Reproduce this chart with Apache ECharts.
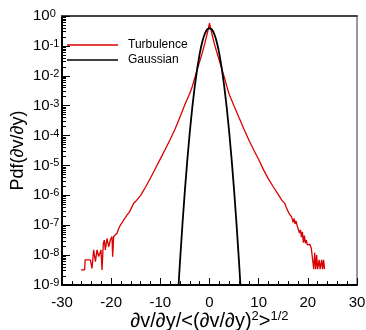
<!DOCTYPE html>
<html><head><meta charset="utf-8">
<script src="https://cdn.jsdelivr.net/npm/echarts@6/dist/echarts.min.js"></script>
<style>html,body{margin:0;padding:0;background:#fff}#c{width:366px;height:330px}</style>
</head><body><div id="c"></div>
<script>
// ---- data ----
const turbX = [-26.14,-25.39,-25.3,-24.24,-23.9,-23.56,-23.2,-22.88,-22.54,-22.07,-21.86,-21.6,-21.39,-21.19,-20.85,-20.5,-20.17,-19.83,-19.7,-19.49,-19.2,-18.81,-18.5,-18.14,-17.8,-17.46,-17.1,-16.78,-16.4,-16.1,-15.75,-15.42,-15,-14,-13,-12,-11,-10,-9,-8,-7,-6,-5,-4,-3.5,-3,-2.5,-2,-1.5,-1,-0.75,-0.5,-0.25,0,0.25,0.5,0.75,1,1.5,2,2.5,3,3.5,4,5,6,7,8,9,10,11,12,13,14,14.7,15,15.3,15.6,15.9,16.1,16.4,16.7,17,17.2,17.4,17.6,17.8,18.05,18.3,18.5,18.7,18.9,19.1,19.3,19.5,19.7,19.9,20.1,20.4,20.7,21,21.2,21.4,21.6,21.8,22,22.3,22.5,22.8,23,23.2,23.4,23.5];
const turbP = [3.2e-9,3.2e-9,6.9e-9,6.9e-9,3.6e-9,1.5e-8,6.0e-9,1.5e-8,8.9e-9,1.5e-8,3.2e-9,2.4e-8,3.2e-8,1.5e-8,3.6e-8,1.9e-8,3.2e-8,4.2e-8,8.9e-9,4.2e-8,4.6e-8,5.4e-8,7.5e-8,1.0e-7,1.2e-7,1.5e-7,1.8e-7,2.2e-7,2.6e-7,3.2e-7,4.2e-7,5.4e-7,6.3e-7,1.0e-6,1.9e-6,3.8e-6,7.9e-6,1.66e-5,3.5e-5,7.4e-5,1.66e-4,4.2e-4,1.1e-3,2.6e-3,4.4e-3,8.5e-3,1.6e-2,3.0e-2,5.6e-2,0.112,0.165,0.245,0.37,0.58,0.38,0.25,0.17,0.117,0.060,0.032,0.017,0.0091,0.0046,0.0024,9.8e-4,4.0e-4,1.66e-4,7.1e-5,3.3e-5,1.58e-5,7.1e-6,3.5e-6,1.9e-6,1.05e-6,6.9e-7,6.0e-7,5.4e-7,4.0e-7,3.5e-7,2.6e-7,2.9e-7,1.9e-7,1.25e-7,1.7e-7,1.1e-7,1.4e-7,1.0e-7,1.0e-7,5.5e-8,7.0e-8,4.0e-8,6.0e-8,2.6e-8,4.5e-8,2.5e-8,3.2e-8,2.2e-8,1.9e-8,2.3e-8,1.7e-8,1.5e-8,3.4e-9,1.2e-8,3.4e-9,1.0e-8,3.4e-9,7.0e-9,3.4e-9,6.9e-9,3.4e-9,6.9e-9,3.4e-9,3.4e-9];
const gaussX = [-6.5,-6,-5.5,-5,-4.5,-4,-3.5,-3,-2.5,-2,-1.75,-1.5,-1.25,-1,-0.75,-0.5,-0.25,0,0.25,0.5,0.75,1,1.25,1.5,1.75,2,2.5,3,3.5,4,4.5,5,5.5,6,6.5];
const gaussP = [2.67e-10,6.08e-9,1.08e-7,1.49e-6,1.60e-5,1.34e-4,8.73e-4,4.43e-3,1.75e-2,5.40e-2,8.63e-2,0.1295,0.1826,0.2420,0.3011,0.3521,0.3867,0.3989,0.3867,0.3521,0.3011,0.2420,0.1826,0.1295,8.63e-2,5.40e-2,1.75e-2,4.43e-3,8.73e-4,1.34e-4,1.60e-5,1.49e-6,1.08e-7,6.08e-9,2.67e-10];
const seriesNames = ['Turbulence', 'Gaussian'];
const seriesColors = ['#d80000', '#000000'];
const xTicks = [-30,-20,-10,0,10,20,30];
const yTicks = [1e-9,1e-8,1e-7,1e-6,1e-5,1e-4,1e-3,1e-2,1e-1,1];
const yMinorMult = [2,3,4,5,6,7,8,9];

const yMinorTicks = [];
for (let i = 0; i < yTicks.length - 1; i++) {
  for (const m of yMinorMult) yMinorTicks.push(m * yTicks[i]);
}

const FONT = '"Liberation Sans", Arial, Helvetica, sans-serif';
const chart = echarts.init(document.getElementById('c'), null, {renderer: 'canvas'});
function expLabel(v) {
  const e = Math.round(Math.log10(v));
  return '{b|10}{e|' + e + '}';
}
const option = {
  animation: false,
  backgroundColor: '#fff',
  grid: {left: 62, right: 9, top: 16, bottom: 45, containLabel: false, outerBoundsMode: 'none',
         show: true, borderColor: '#333', borderWidth: 1, backgroundColor: 'transparent'},
  legend: {
    orient: 'vertical', left: 67, top: 38, padding: 0, itemGap: 1,
    itemWidth: 51, itemHeight: 1.5,
    data: seriesNames.map((n, i) => ({name: n, icon: 'rect', itemStyle: {color: seriesColors[i]}})),
    textStyle: {fontSize: 12, color: '#000', fontFamily: FONT, padding: [0, 0, 0, 5], lineHeight: 14}
  },
  xAxis: [{
    type: 'value', min: xTicks[0], max: xTicks[xTicks.length - 1], interval: 10, position: 'bottom',
    axisLine: {onZero: false, lineStyle: {color: '#000', width: 2}},
    axisTick: {inside: true, length: 7, lineStyle: {color: '#000', width: 1}},
    minorTick: {show: true, splitNumber: 5, length: 4, lineStyle: {color: '#000', width: 1}},
    splitLine: {show: false},
    axisLabel: {fontSize: 15, color: '#000', fontFamily: FONT, margin: 10},
    name: '{a|∂v/∂y/<(∂v/∂y)}{s|2}{a|>}{s|1/2}',
    nameLocation: 'middle', nameGap: 25, nameMoveOverlap: false,
    nameTextStyle: {
      color: '#000', fontFamily: FONT, fontSize: 20,
      rich: {
        a: {fontSize: 20, lineHeight: 21, fontFamily: FONT, color: '#000', verticalAlign: 'bottom'},
        s: {fontSize: 13, lineHeight: 13, fontFamily: FONT, color: '#000', verticalAlign: 'top', padding: [0, 0, 10, 0]}
      }
    }
  }, {
    type: 'value', min: xTicks[0], max: xTicks[xTicks.length - 1], position: 'top',
    axisLine: {onZero: false, lineStyle: {color: '#444', width: 2}},
    axisTick: {show: false}, axisLabel: {show: false}, splitLine: {show: false}
  }],
  yAxis: [{
    type: 'log', logBase: 10, min: yTicks[0], max: yTicks[yTicks.length - 1], position: 'left',
    axisLine: {show: true, onZero: false, lineStyle: {color: '#000', width: 2}},
    axisTick: {show: true, inside: true, length: 8, customValues: yTicks, lineStyle: {color: '#000', width: 1}},
    minorTick: {show: false},
    splitLine: {show: false},
    axisLabel: {
      customValues: yTicks, formatter: expLabel, align: 'left', margin: 29,
      color: '#000', fontFamily: FONT, fontSize: 15,
      rich: {
        b: {fontSize: 15, lineHeight: 15, fontFamily: FONT, color: '#000', verticalAlign: 'bottom'},
        e: {fontSize: 11, lineHeight: 11, fontFamily: FONT, color: '#000', verticalAlign: 'top', padding: [0, 0, 9, 0]}
      }
    },
    name: 'Pdf(∂v/∂y)', nameLocation: 'middle', nameGap: 35, nameMoveOverlap: false,
    nameTextStyle: {fontSize: 18, color: '#000', fontFamily: FONT}
  }, {
    type: 'log', logBase: 10, min: yTicks[0], max: yTicks[yTicks.length - 1], position: 'left',
    axisLine: {show: false, onZero: false},
    axisTick: {show: true, inside: true, length: 4, customValues: yMinorTicks, lineStyle: {color: '#000', width: 1}},
    axisLabel: {show: false}, splitLine: {show: false}, minorTick: {show: false}
  }],
  series: [{
    name: seriesNames[0], type: 'line', xAxisIndex: 0, yAxisIndex: 0,
    data: turbX.map((x, i) => [x, turbP[i]]),
    symbol: 'none', showSymbol: false, clip: true,
    lineStyle: {color: seriesColors[0], width: 1.3}, itemStyle: {color: seriesColors[0]}
  }, {
    name: seriesNames[1], type: 'line', xAxisIndex: 0, yAxisIndex: 0,
    data: gaussX.map((x, i) => [x, gaussP[i]]),
    symbol: 'none', showSymbol: false, clip: true,
    lineStyle: {color: seriesColors[1], width: 1.8}, itemStyle: {color: seriesColors[1]}
  }]
};
chart.setOption(option);
</script>
</body></html>
